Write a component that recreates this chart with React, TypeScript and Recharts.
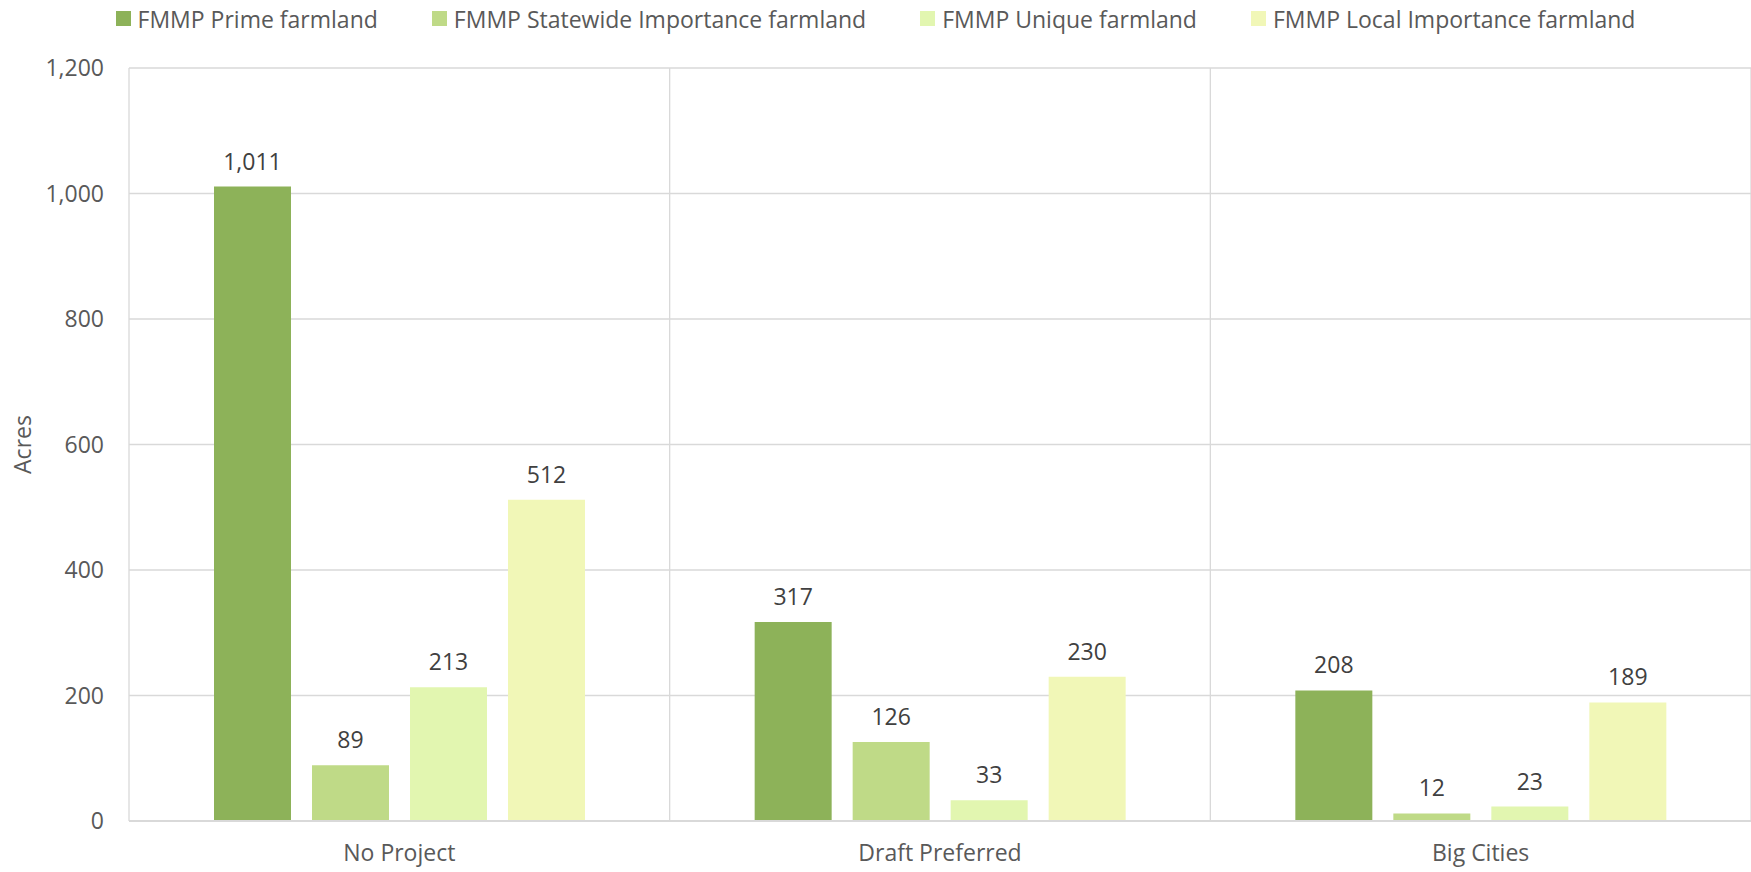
import { BarChart, Bar, XAxis, YAxis, CartesianGrid, Legend, LabelList } from "recharts";

const categories = ["No Project", "Draft Preferred", "Big Cities"];
const primeAcres = [1011, 317, 208];
const statewideAcres = [89, 126, 12];
const uniqueAcres = [213, 33, 23];
const localAcres = [512, 230, 189];
const yTicks = [0, 200, 400, 600, 800, 1000, 1200];

const series = [
  { key: "prime", name: "FMMP Prime farmland", color: "#8db259" },
  { key: "statewide", name: "FMMP Statewide Importance farmland", color: "#bfda87" },
  { key: "unique", name: "FMMP Unique farmland", color: "#e2f6b0" },
  { key: "local", name: "FMMP Local Importance farmland", color: "#f1f7b7" },
];

const data = categories.map((category, i) => ({
  category,
  slot: i,
  prime: primeAcres[i],
  statewide: statewideAcres[i],
  unique: uniqueAcres[i],
  local: localAcres[i],
}));

const FONT = "'Open Sans', sans-serif";
const fmt = (v: number) => v.toLocaleString("en-US");

const LegendContent = () => (
  <div
    style={{
      display: "flex",
      justifyContent: "center",
      gap: 54,
      height: 68,
      paddingTop: 3,
      boxSizing: "border-box",
      fontFamily: FONT,
      fontSize: 23,
      color: "#595959",
    }}
  >
    {series.map((s) => (
      <div key={s.key} style={{ display: "flex", alignItems: "center", height: 31 }}>
        <span style={{ width: 15, height: 15, background: s.color, marginRight: 7, display: "inline-block" }} />
        {s.name}
      </div>
    ))}
  </div>
);

const AcresLabel = (props: any) => {
  const vb = props.viewBox;
  const cx = 22;
  const cy = vb.y + vb.height / 2;
  return (
    <text
      x={cx}
      y={cy}
      transform={`rotate(-90, ${cx}, ${cy})`}
      textAnchor="middle"
      dominantBaseline="central"
      fill="#595959"
      fontSize={23}
      fontFamily={FONT}
    >
      Acres
    </text>
  );
};

export default function App() {
  return (
    <div>
      <style>{"body{margin:0}"}</style>
      <BarChart
        width={1751}
        height={872}
        data={data}
        margin={{ top: 0, right: 0, bottom: 0, left: 0 }}
        barGap={21}
        barSize={77}
        style={{ fontFamily: FONT }}
      >
        <CartesianGrid xAxisId="grid" stroke="#d9d9d9" strokeWidth={1.3} />
        <XAxis xAxisId="grid" type="number" dataKey="slot" domain={[0, 3]} ticks={[0, 1, 2]} hide />
        <XAxis
          dataKey="category"
          height={51}
          tickLine={false}
          tickSize={0}
          tickMargin={24}
          axisLine={{ stroke: "#d9d9d9", strokeWidth: 2 }}
          tick={{ fill: "#595959", fontSize: 23 }}
        />
        <YAxis
          width={129}
          domain={[0, 1200]}
          ticks={yTicks}
          interval={0}
          axisLine={false}
          tickLine={false}
          tickSize={0}
          tickMargin={25}
          tickFormatter={fmt}
          tick={{ fill: "#595959", fontSize: 23 }}
          label={<AcresLabel />}
        />
        <Legend verticalAlign="top" align="center" content={<LegendContent />} />
        {series.map((s) => (
          <Bar key={s.key} dataKey={s.key} name={s.name} fill={s.color} isAnimationActive={false}>
            <LabelList dataKey={s.key} position="top" offset={17} formatter={(v: any) => fmt(Number(v))} fill="#404040" fontSize={23} fontFamily={FONT} />
          </Bar>
        ))}
      </BarChart>
    </div>
  );
}
